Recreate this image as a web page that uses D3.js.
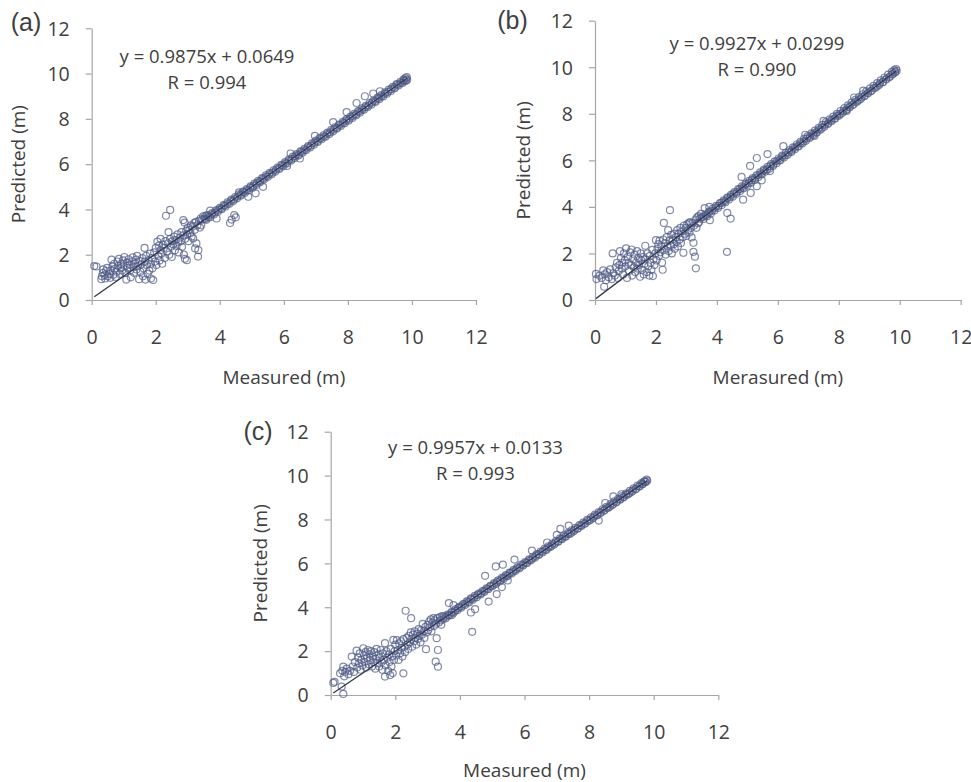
<!DOCTYPE html>
<html>
<head>
<meta charset="utf-8">
<script src="https://cdn.jsdelivr.net/npm/d3@7"></script>
<style>
  html, body { margin: 0; padding: 0; background: #ffffff; }
  svg { display: block; }
  text { font-family: "Open Sans", Lato, sans-serif; fill: #404040; }
</style>
</head>
<body>
<svg id="chart" width="971" height="782"></svg>
<script>
// ---------------- DATA ----------------
const panelLabels = ["(a)", "(b)", "(c)"];
const xTitles = ["Measured (m)", "Merasured (m)", "Measured (m)"];
const yTitle = "Predicted (m)";
const slopes = [0.9875, 0.9927, 0.9957];
const intercepts = [0.0649, 0.0299, 0.0133];
const rValues = ["0.994", "0.990", "0.993"];
const xTicks = [0, 2, 4, 6, 8, 10, 12];
const yTicks = [0, 2, 4, 6, 8, 10, 12];

// Panel (a): [measured, predicted]
const pointsA = [
 [0.08,1.5],[0.15,1.48],[0.3,0.92],[0.32,1.05],[0.35,1.2],[0.36,1.35],[0.4,1.1],[0.42,0.95],[0.45,1.28],[0.48,1.42],
 [0.5,1.05],[0.55,1.15],[0.58,0.98],[0.6,1.3],[0.62,1.78],[0.65,1.5],[0.68,1.12],[0.7,1.6],[0.72,1.38],[0.75,1.02],
 [0.78,1.25],[0.8,1.7],[0.82,1.5],[0.85,1.82],[0.88,1.15],[0.9,1.4],[0.92,1.6],[0.95,1.3],[0.98,1.75],[1.0,1.52],
 [1.02,1.9],[1.05,1.2],[1.08,0.9],[1.1,1.65],[1.12,1.42],[1.15,1.8],[1.18,1.55],[1.2,1.3],[1.22,1.0],[1.25,1.7],
 [1.28,1.88],[1.3,1.45],[1.32,1.2],[1.35,1.62],[1.38,1.78],[1.4,1.35],[1.42,1.95],[1.45,1.5],[1.48,0.92],[1.5,1.72],
 [1.52,1.25],[1.55,1.58],[1.58,1.85],[1.6,1.05],[1.62,1.4],[1.65,2.3],[1.66,1.7],[1.68,0.9],[1.7,1.95],[1.72,1.55],
 [1.75,1.15],[1.78,1.75],[1.8,1.3],[1.82,2.05],[1.85,0.95],[1.85,1.6],[1.88,1.85],[1.9,1.4],[1.92,0.88],[1.95,2.1],[1.98,1.7],
 [2.0,2.3],[2.02,1.55],[2.05,2.58],[2.08,1.95],[2.1,2.4],[2.12,1.75],[2.15,2.2],[2.15,2.7],[2.18,2.05],[2.2,1.6],
 [2.22,2.45],[2.25,2.3],[2.28,1.85],[2.3,2.6],[2.32,3.72],[2.35,2.15],[2.38,2.5],[2.4,3.0],[2.42,2.0],[2.45,3.98],
 [2.45,2.7],[2.48,2.35],[2.5,1.9],[2.52,2.6],[2.55,2.45],[2.58,2.8],[2.6,2.2],[2.62,2.65],[2.65,2.4],[2.68,2.9],
 [2.7,2.55],[2.72,2.1],[2.75,2.75],[2.78,2.6],[2.8,3.0],[2.82,2.35],[2.85,2.85],[2.86,3.53],[2.88,2.0],[2.9,3.42],
 [2.91,1.82],[2.92,2.7],[2.95,3.05],[2.97,1.76],[2.98,2.9],[3.0,3.2],[3.02,2.6],[3.05,3.1],[3.08,2.95],[3.1,3.3],
 [3.12,2.8],[3.15,3.25],[3.17,2.72],[3.2,3.4],[3.22,3.1],[3.23,2.28],[3.25,3.45],[3.27,2.5],[3.3,3.3],[3.32,1.92],
 [3.33,2.2],[3.35,3.5],[3.38,3.2],[3.4,3.6],[3.42,3.3],[3.45,3.55],[3.48,3.7],
 [3.52,3.6],[3.58,3.54],[3.64,3.72],[3.7,3.66],[3.76,3.84],[3.82,3.78],[3.88,3.96],[3.94,3.9],[4.0,4.07],[4.06,4.01],
 [4.12,4.19],[4.18,4.13],[4.24,4.31],[4.3,4.25],[4.36,4.43],[4.42,4.37],[4.48,4.55],[4.54,4.49],[4.6,4.67],[4.66,4.61],
 [4.72,4.79],[4.78,4.73],[4.84,4.9],[4.9,4.84],[4.96,5.02],[5.02,4.96],[5.08,5.14],[5.14,5.08],[5.2,5.26],[5.26,5.2],
 [5.32,5.38],[5.38,5.32],[5.44,5.5],[5.5,5.44],[5.56,5.62],[5.62,5.55],[5.68,5.73],[5.74,5.67],[5.8,5.85],[5.86,5.79],
 [5.92,5.97],[5.98,5.91],[6.04,6.09],[6.1,6.03],[6.16,6.21],[6.22,6.15],[6.28,6.33],[6.34,6.27],[6.4,6.44],[6.46,6.38],
 [6.52,6.56],[6.58,6.5],[6.64,6.68],[6.7,6.62],[6.76,6.8],[6.82,6.74],[6.88,6.92],[6.94,6.86],[7.0,7.04],[7.06,6.98],
 [7.12,7.16],[7.18,7.1],[7.24,7.27],[7.3,7.21],[7.36,7.39],[7.42,7.33],[7.48,7.51],[7.54,7.45],[7.6,7.63],[7.66,7.57],
 [7.72,7.75],[7.78,7.69],[7.84,7.87],[7.9,7.81],[7.96,7.99],[8.02,7.92],[8.08,8.1],[8.14,8.04],[8.2,8.22],[8.26,8.16],
 [8.32,8.34],[8.38,8.28],[8.44,8.46],[8.5,8.4],[8.56,8.58],[8.62,8.52],[8.68,8.7],[8.74,8.64],[8.8,8.81],[8.86,8.75],
 [8.92,8.93],[8.98,8.87],[9.04,9.05],[9.1,8.99],[9.16,9.17],[9.22,9.11],[9.28,9.29],[9.34,9.23],[9.4,9.41],[9.46,9.35],
 [9.52,9.53],[9.58,9.47],[9.64,9.64],[9.7,9.58],[9.74,9.74],[9.78,9.66],[9.8,9.8],[9.82,9.7],[9.84,9.84],[9.85,9.73],
 [3.55,3.58],[3.65,3.66],[3.75,3.78],[3.85,3.86],[3.95,3.98],[4.05,4.05],[4.15,4.17],[4.25,4.25],[4.35,4.37],[4.45,4.45],
 [4.55,4.57],[4.65,4.65],[4.75,4.77],[4.85,4.84],[4.95,4.96],[5.05,5.04],[5.15,5.16],[5.25,5.24],[5.35,5.36],[5.45,5.44],
 [5.55,5.56],[5.65,5.63],[5.75,5.75],[5.85,5.83],[5.95,5.95],[6.05,6.03],[6.15,6.15],[6.25,6.23],[6.35,6.35],[6.45,6.42],
 [6.55,6.54],[6.65,6.62],[6.75,6.74],[6.85,6.82],[6.95,6.94],[7.05,7.02],[7.15,7.14],[7.25,7.21],[7.35,7.33],[7.45,7.41],
 [7.55,7.53],[7.65,7.61],[7.75,7.73],[7.85,7.81],[7.95,7.93],[8.05,8.0],[8.15,8.12],[8.25,8.2],[8.35,8.32],[8.45,8.4],
 [8.55,8.52],[8.65,8.6],[8.75,8.72],[8.85,8.79],[8.95,8.91],[9.05,8.99],[9.15,9.11],[9.25,9.19],[9.35,9.31],[9.45,9.39],
 [9.55,9.51],[9.65,9.58],[9.75,9.7],
 [4.32,3.4],[4.37,3.55],[4.45,3.75],[4.5,3.65],[4.89,4.56],[5.12,4.71],[5.35,5.0],[6.21,6.47],[6.5,6.25],[6.97,7.25],
 [7.54,7.86],[7.96,8.3],[8.27,8.7],[8.53,9.0],[8.79,9.12],[9.0,9.22],[6.1,5.92],[4.6,4.75],[3.7,3.95],[3.6,3.75],
 [3.55,3.72],[3.9,3.6]
];

// Panel (b)
const pointsB = [
 [0.03,1.12],[0.05,0.9],[0.15,1.05],[0.22,0.95],[0.27,1.27],[0.3,0.57],[0.32,1.1],[0.36,0.85],[0.4,1.2],[0.45,0.98],
 [0.5,1.32],[0.55,0.9],[0.58,2.0],[0.6,1.15],[0.65,1.05],[0.68,1.4],[0.72,1.6],[0.75,0.95],[0.78,1.25],[0.8,1.5],
 [0.82,2.1],[0.85,1.8],[0.88,1.35],[0.9,1.6],[0.92,1.1],[0.95,2.0],[0.98,1.7],[1.0,1.45],[1.02,2.22],[1.05,0.95],
 [1.08,1.85],[1.1,1.6],[1.12,1.25],[1.15,2.05],[1.18,1.5],[1.2,2.17],[1.22,1.05],[1.25,1.75],[1.28,1.4],[1.3,1.95],
 [1.32,1.2],[1.35,1.6],[1.38,2.1],[1.4,1.35],[1.42,1.8],[1.45,1.5],[1.48,1.0],[1.5,2.0],[1.52,1.7],[1.55,1.3],
 [1.58,1.85],[1.6,1.1],[1.62,1.55],[1.65,2.33],[1.66,1.75],[1.7,1.2],[1.72,2.0],[1.75,1.45],[1.78,1.05],[1.8,1.9],
 [1.82,1.6],[1.85,1.3],[1.88,2.15],[1.9,1.03],[1.92,1.75],[1.95,1.5],[1.98,2.0],
 [2.0,2.57],[2.02,1.7],[2.05,2.2],[2.08,2.4],[2.1,1.9],[2.12,2.55],[2.15,2.05],[2.18,2.3],[2.2,1.6],[2.22,1.3],
 [2.24,2.6],[2.26,3.31],[2.28,2.15],[2.3,2.45],[2.32,1.95],[2.35,2.7],[2.38,2.3],[2.4,3.0],[2.42,2.1],[2.45,2.55],
 [2.46,3.86],[2.48,2.35],[2.5,2.8],[2.52,2.0],[2.55,2.6],[2.58,2.4],[2.6,2.85],[2.62,2.2],[2.65,2.7],[2.68,2.5],
 [2.7,3.0],[2.72,2.3],[2.75,2.85],[2.78,2.6],[2.8,3.1],[2.82,2.45],[2.85,2.95],[2.88,2.7],[2.9,2.03],[2.92,3.2],
 [2.95,2.85],[2.98,3.1],[3.0,2.75],[3.02,3.25],[3.05,3.0],[3.08,3.3],[3.1,2.9],[3.12,3.35],[3.15,3.1],[3.17,2.69],
 [3.2,3.3],[3.23,2.46],[3.23,2.07],[3.25,3.2],[3.28,1.86],[3.3,3.45],[3.31,1.36],[3.33,3.1],[3.35,3.55],[3.38,3.3],
 [3.4,3.6],[3.42,3.35],[3.45,3.5],[3.48,3.7],
 [3.5,3.55],[3.56,3.48],[3.62,3.68],[3.68,3.6],[3.74,3.8],[3.8,3.72],[3.86,3.92],[3.92,3.84],[3.98,4.04],[4.04,3.96],
 [4.1,4.16],[4.16,4.08],[4.22,4.28],[4.28,4.2],[4.34,4.4],[4.4,4.32],[4.46,4.52],[4.52,4.44],[4.58,4.64],[4.64,4.56],
 [4.7,4.76],[4.76,4.68],[4.82,4.88],[4.88,4.8],[4.94,5.0],[5.0,4.92],[5.06,5.12],[5.12,5.04],[5.18,5.24],[5.24,5.16],
 [5.3,5.36],[5.36,5.28],[5.42,5.48],[5.48,5.4],[5.54,5.6],[5.6,5.52],[5.66,5.72],[5.72,5.64],[5.78,5.84],[5.84,5.76],
 [5.9,5.96],[5.96,5.88],[6.02,6.08],[6.08,6.0],[6.14,6.2],[6.2,6.12],[6.26,6.32],[6.32,6.24],[6.38,6.44],[6.44,6.36],
 [6.5,6.56],[6.56,6.48],[6.62,6.68],[6.68,6.6],[6.74,6.8],[6.8,6.72],[6.86,6.92],[6.92,6.84],[6.98,7.04],[7.04,6.96],
 [7.1,7.16],[7.16,7.08],[7.22,7.28],[7.28,7.2],[7.34,7.4],[7.4,7.32],[7.46,7.52],[7.52,7.44],[7.58,7.64],[7.64,7.56],
 [7.7,7.76],[7.76,7.68],[7.82,7.88],[7.88,7.8],[7.94,8.0],[8.0,7.92],[8.06,8.12],[8.12,8.04],[8.18,8.24],[8.24,8.16],
 [8.3,8.36],[8.36,8.28],[8.42,8.48],[8.48,8.4],[8.54,8.6],[8.6,8.52],[8.66,8.72],[8.72,8.64],[8.78,8.84],[8.84,8.76],
 [8.9,8.96],[8.96,8.88],[9.02,9.08],[9.08,9.0],[9.14,9.2],[9.2,9.12],[9.26,9.32],[9.32,9.24],[9.38,9.44],[9.44,9.36],
 [9.5,9.56],[9.56,9.48],[9.62,9.68],[9.68,9.6],[9.74,9.8],[9.78,9.72],[9.82,9.88],[9.85,9.78],[9.88,9.92],[9.9,9.85],
 [3.55,3.57],[3.65,3.64],[3.75,3.77],[3.85,3.84],[3.95,3.97],[4.05,4.04],[4.15,4.17],[4.25,4.24],[4.35,4.37],[4.45,4.44],
 [4.55,4.57],[4.65,4.63],[4.75,4.76],[4.85,4.83],[4.95,4.96],[5.05,5.03],[5.15,5.16],[5.25,5.23],[5.35,5.36],[5.45,5.42],
 [5.55,5.55],[5.65,5.62],[5.75,5.75],[5.85,5.82],[5.95,5.95],[6.05,6.02],[6.15,6.15],[6.25,6.22],[6.35,6.34],[6.45,6.41],
 [6.55,6.54],[6.65,6.61],[6.75,6.74],[6.85,6.81],[6.95,6.94],[7.05,7.01],[7.15,7.13],[7.25,7.2],[7.35,7.33],[7.45,7.4],
 [7.55,7.53],[7.65,7.6],[7.75,7.72],[7.85,7.79],[7.95,7.92],[8.05,7.99],[8.15,8.12],[8.25,8.18],[8.35,8.31],[8.45,8.38],
 [8.55,8.51],[8.65,8.58],[8.75,8.71],[8.85,8.78],[8.95,8.9],[9.05,8.97],[9.15,9.1],[9.25,9.17],[9.35,9.3],[9.45,9.37],
 [9.55,9.49],[9.65,9.57],[9.75,9.69],[9.85,9.8],
 [4.33,2.07],[4.34,3.74],[4.45,3.5],[3.77,3.43],[4.81,5.29],[4.86,4.31],[5.09,5.76],[5.11,4.6],[5.31,6.1],[5.31,4.89],
 [5.47,5.14],[5.66,6.27],[5.74,5.54],[6.18,6.61],[8.8,9.0],[8.26,8.12],[3.6,3.95],[3.75,4.0],[7.2,7.05],[6.9,7.1],
 [7.5,7.7],[8.5,8.7]
];

// Panel (c)
const pointsC = [
 [0.08,0.55],[0.12,0.6],[0.29,0.99],[0.34,0.38],[0.36,1.1],[0.39,0.05],[0.39,1.29],[0.42,0.85],[0.45,1.05],[0.5,1.2],
 [0.55,0.95],[0.6,1.1],[0.65,1.75],[0.68,1.3],[0.72,1.05],[0.75,1.5],[0.8,2.02],[0.82,1.25],[0.85,1.7],[0.88,1.45],
 [0.9,1.9],[0.92,1.15],[0.95,1.6],[0.98,1.35],[1.01,2.13],[1.03,1.8],[1.05,1.5],[1.08,1.95],[1.1,1.25],[1.12,1.7],
 [1.15,2.05],[1.18,1.4],[1.2,1.85],[1.22,1.6],[1.25,2.0],[1.28,1.3],[1.3,1.75],[1.32,1.5],[1.35,1.95],[1.38,1.2],
 [1.4,1.65],[1.42,2.1],[1.45,1.45],[1.48,1.85],[1.5,1.3],[1.52,1.7],[1.55,2.05],[1.58,1.5],[1.6,1.15],[1.62,1.9],
 [1.65,1.6],[1.68,0.84],[1.68,2.36],[1.7,1.35],[1.72,2.0],[1.75,1.7],[1.78,1.1],[1.8,1.85],[1.82,1.5],[1.84,0.91],
 [1.86,2.1],[1.88,1.3],[1.9,1.75],[1.92,1.0],[1.94,2.51],[1.96,1.6],[1.98,2.0],
 [2.0,2.3],[2.03,1.8],[2.05,2.5],[2.08,2.05],[2.1,1.6],[2.12,2.35],[2.15,1.9],[2.18,2.45],[2.2,2.15],[2.22,1.75],
 [2.25,0.99],[2.25,2.55],[2.28,2.2],[2.3,1.95],[2.32,3.84],[2.35,2.6],[2.38,2.3],[2.4,2.1],[2.42,2.7],[2.45,2.4],
 [2.48,2.85],[2.49,3.5],[2.5,2.55],[2.52,2.2],[2.55,2.75],[2.58,2.45],[2.6,2.9],[2.62,2.6],[2.65,2.3],[2.68,2.8],
 [2.7,2.55],[2.72,3.0],[2.75,2.7],[2.78,2.4],[2.8,2.95],[2.82,2.75],[2.85,3.24],[2.88,2.9],[2.9,2.6],[2.93,3.1],
 [2.95,2.09],[2.97,2.85],[3.0,3.2],[3.02,2.95],[3.05,3.35],[3.08,3.1],[3.1,3.45],[3.12,2.9],[3.15,3.3],[3.18,3.5],
 [3.2,3.15],[3.22,3.4],[3.25,1.52],[3.26,3.25],[3.28,2.59],[3.3,3.5],[3.32,2.05],[3.32,1.29],[3.35,3.3],[3.38,3.55],
 [3.4,3.4],[3.42,3.2],[3.45,3.6],[3.48,3.45],
 [3.5,3.58],[3.56,3.5],[3.62,3.66],[3.68,3.62],[3.74,3.78],[3.8,3.74],[3.86,3.9],[3.92,3.86],[3.98,4.02],[4.04,3.98],
 [4.1,4.14],[4.16,4.1],[4.22,4.28],[4.28,4.22],[4.34,4.4],[4.4,4.34],[4.46,4.52],[4.52,4.46],[4.58,4.62],[4.64,4.58],
 [4.7,4.74],[4.76,4.7],[4.82,4.86],[4.88,4.82],[4.94,4.98],[5.0,4.96],[5.06,5.1],[5.12,5.06],[5.18,5.22],[5.24,5.18],
 [5.3,5.34],[5.36,5.3],[5.42,5.46],[5.48,5.42],[5.54,5.58],[5.6,5.54],[5.66,5.7],[5.72,5.66],[5.78,5.82],[5.84,5.78],
 [5.9,5.94],[5.96,5.9],[6.02,6.06],[6.08,6.02],[6.14,6.18],[6.2,6.14],[6.26,6.3],[6.32,6.26],[6.38,6.42],[6.44,6.38],
 [6.5,6.54],[6.56,6.5],[6.62,6.66],[6.68,6.62],[6.74,6.78],[6.8,6.74],[6.86,6.9],[6.92,6.86],[6.98,7.02],[7.04,6.98],
 [7.1,7.14],[7.16,7.1],[7.22,7.26],[7.28,7.22],[7.34,7.38],[7.4,7.34],[7.46,7.5],[7.52,7.46],[7.58,7.62],[7.64,7.58],
 [7.7,7.74],[7.76,7.7],[7.82,7.86],[7.88,7.82],[7.94,7.98],[8.0,7.94],[8.06,8.1],[8.12,8.06],[8.18,8.22],[8.24,8.18],
 [8.3,8.34],[8.36,8.3],[8.42,8.46],[8.48,8.42],[8.54,8.58],[8.6,8.54],[8.66,8.7],[8.72,8.66],[8.78,8.82],[8.84,8.78],
 [8.9,8.94],[8.96,8.9],[9.02,9.06],[9.08,9.02],[9.14,9.18],[9.2,9.14],[9.26,9.3],[9.32,9.26],[9.38,9.42],[9.44,9.38],
 [9.5,9.54],[9.56,9.5],[9.62,9.66],[9.66,9.62],[9.7,9.74],[9.74,9.7],[9.78,9.82],[9.8,9.76],
 [3.55,3.56],[3.65,3.64],[3.75,3.76],[3.85,3.84],[3.95,3.96],[4.05,4.04],[4.15,4.16],[4.25,4.24],[4.35,4.36],[4.45,4.44],
 [4.55,4.56],[4.65,4.63],[4.75,4.75],[4.85,4.83],[4.95,4.95],[5.05,5.03],[5.15,5.15],[5.25,5.23],[5.35,5.35],[5.45,5.43],
 [5.55,5.55],[5.65,5.62],[5.75,5.74],[5.85,5.82],[5.95,5.94],[6.05,6.02],[6.15,6.14],[6.25,6.22],[6.35,6.34],[6.45,6.42],
 [6.55,6.54],[6.65,6.61],[6.75,6.73],[6.85,6.81],[6.95,6.93],[7.05,7.01],[7.15,7.13],[7.25,7.21],[7.35,7.33],[7.45,7.4],
 [7.55,7.53],[7.65,7.6],[7.75,7.73],[7.85,7.8],[7.95,7.93],[8.05,8.0],[8.15,8.13],[8.25,8.2],[8.35,8.32],[8.45,8.4],
 [8.55,8.52],[8.65,8.6],[8.75,8.72],[8.85,8.8],[8.95,8.92],[9.05,9.0],[9.15,9.12],[9.25,9.2],[9.35,9.31],[9.45,9.4],
 [9.55,9.51],[9.65,9.6],[9.75,9.72],
 [3.66,4.19],[3.8,4.1],[3.75,3.65],[4.34,3.76],[4.38,2.88],[4.47,3.91],[4.78,5.43],[4.89,4.26],[5.11,5.86],[5.33,5.94],
 [5.14,4.6],[5.3,4.92],[5.48,5.22],[5.69,6.17],[6.23,6.58],[6.7,6.95],[7.11,7.57],[7.37,7.72],[7.0,7.3],[8.3,7.95],
 [8.5,8.75],[8.75,9.05],[9.0,9.15]
];

const allPoints = [pointsA, pointsB, pointsC];

// ---------------- LAYOUT ----------------
const panels = [
  { x0: 91.7, x1: 476, y0: 300, y1: 28.3, label: [26, 22.5], eq: [207, 56.5, 82.5], yTitleX: 18, xTitleY: 384 },
  { x0: 595, x1: 960.7, y0: 300, y1: 20.7, label: [512.5, 20.5], eq: [757, 43.5, 70], yTitleX: 523, xTitleY: 384 },
  { x0: 330.7, x1: 718.3, y0: 695, y1: 431.7, label: [258, 431.5], eq: [475.5, 447.5, 473.5], yTitleX: 260, xTitleY: 777 }
];

const svg = d3.select("#chart");
const fmt4 = d3.format(".4f");
const axisColor = "#a6a6a6";
const textFont = "'Open Sans', Lato, sans-serif";

panels.forEach((p, i) => {
  const data = allPoints[i];
  const x = d3.scaleLinear().domain([0, 12]).range([p.x0, p.x1]);
  const y = d3.scaleLinear().domain([0, 12]).range([p.y0, p.y1]);
  const g = svg.append("g");

  // x axis
  const gx = g.append("g")
    .attr("transform", `translate(0,${p.y0})`)
    .call(d3.axisBottom(x).tickValues(xTicks).tickSize(5).tickSizeOuter(0));
  gx.select(".domain").attr("stroke", axisColor).attr("stroke-width", 1.2);
  gx.selectAll(".tick line").attr("stroke", axisColor).attr("stroke-width", 1.2);
  gx.selectAll(".tick text")
    .attr("y", 37).attr("dy", "0.35em")
    .style("font-family", textFont)
    .style("font-size", "19.5px").attr("fill", "#404040");

  // y axis
  const gy = g.append("g")
    .attr("transform", `translate(${p.x0},0)`)
    .call(d3.axisLeft(y).tickValues(yTicks).tickSize(6).tickSizeOuter(0));
  gy.select(".domain").attr("stroke", axisColor).attr("stroke-width", 1.2);
  gy.selectAll(".tick line").attr("stroke", axisColor).attr("stroke-width", 1.2);
  gy.selectAll(".tick text")
    .attr("x", -22).attr("dy", "0.35em")
    .style("font-family", textFont)
    .style("font-size", "19.5px").attr("fill", "#404040");

  // points
  g.append("g").selectAll("circle")
    .data(data)
    .join("circle")
    .attr("cx", d => x(d[0]))
    .attr("cy", d => y(d[1]))
    .attr("r", 3.5)
    .attr("fill", "none")
    .attr("stroke", "#4e5a86")
    .attr("stroke-opacity", 0.7)
    .attr("stroke-width", 1.2);

  // regression line
  const ext = d3.extent(data, d => d[0]);
  g.append("line")
    .attr("x1", x(ext[0])).attr("y1", y(slopes[i] * ext[0] + intercepts[i]))
    .attr("x2", x(ext[1])).attr("y2", y(slopes[i] * ext[1] + intercepts[i]))
    .attr("stroke", "#33384c").attr("stroke-width", 1.3);

  // equation text
  g.append("text")
    .attr("x", p.eq[0]).attr("y", p.eq[1]).attr("dy", "0.35em")
    .attr("text-anchor", "middle").style("font-size", "18.5px")
    .text(`y = ${fmt4(slopes[i])}x + ${fmt4(intercepts[i])}`);
  g.append("text")
    .attr("x", p.eq[0]).attr("y", p.eq[2]).attr("dy", "0.35em")
    .attr("text-anchor", "middle").style("font-size", "18.5px")
    .text(`R = ${rValues[i]}`);

  // panel label
  g.append("text")
    .attr("x", p.label[0]).attr("y", p.label[1]).attr("dy", "0.35em")
    .attr("text-anchor", "middle").style("font-size", "25px").attr("fill", "#222")
    .style("font-family", "'Liberation Sans', Arial, sans-serif")
    .text(panelLabels[i]);

  // axis titles
  g.append("text")
    .attr("x", (p.x0 + p.x1) / 2).attr("y", p.xTitleY)
    .attr("text-anchor", "middle").style("font-size", "19px")
    .text(xTitles[i]);
  g.append("text")
    .attr("transform", `translate(${p.yTitleX},${(p.y0 + p.y1) / 2}) rotate(-90)`)
    .attr("dy", "0.35em")
    .attr("text-anchor", "middle").style("font-size", "19px")
    .text(yTitle);
});
</script>
</body>
</html>
